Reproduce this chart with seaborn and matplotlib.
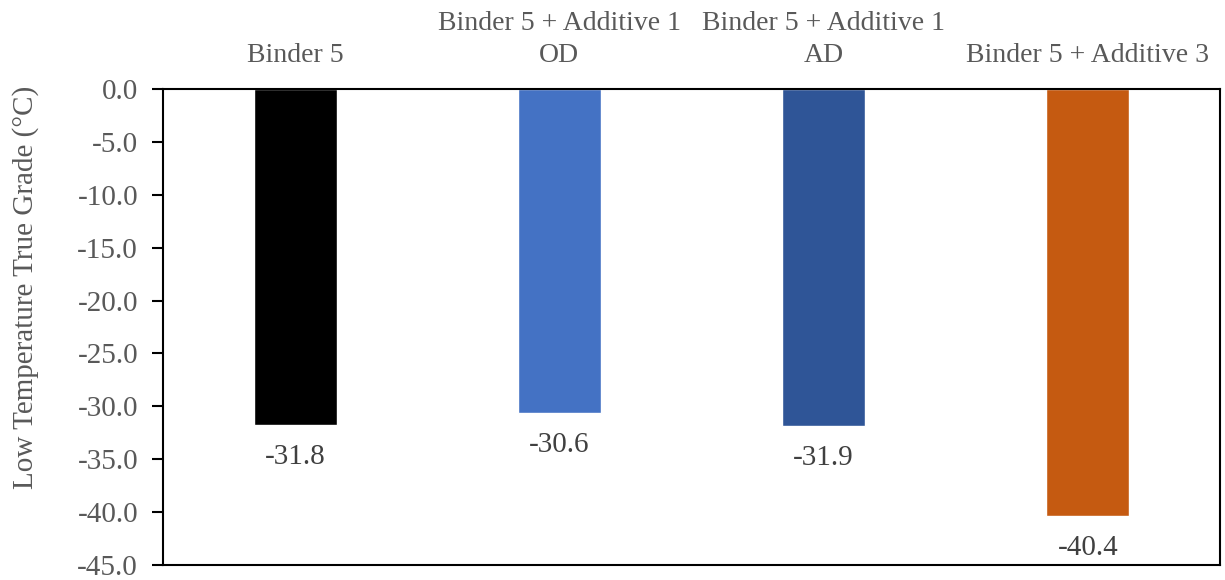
import matplotlib
matplotlib.use("Agg")
import matplotlib.pyplot as plt
import seaborn as sns
import pandas as pd

categories = ["Binder 5", "Binder 5 + Additive 1\nOD", "Binder 5 + Additive 1\nAD", "Binder 5 + Additive 3"]
values = [-31.8, -30.6, -31.9, -40.4]
colors = ["#000000", "#4472C4", "#2F5597", "#C55A11"]
yticks = [0, -5, -10, -15, -20, -25, -30, -35, -40, -45]

sns.set_theme(style="white")
plt.rcParams["font.family"] = ["Liberation Serif", "DejaVu Serif"]

df = pd.DataFrame({"binder": categories, "grade": values})

fig = plt.figure(figsize=(12.25, 5.8), dpi=100)
ax = fig.add_axes([163 / 1225, 1 - 565 / 580, (1220 - 163) / 1225, (565 - 89) / 580])

sns.barplot(data=df, x="binder", y="grade", hue="binder", palette=colors,
            width=0.314, dodge=False, legend=False, saturation=1, ax=ax)

ax.set_ylim(-45, 0)
ax.set_yticks(yticks)
ax.set_yticklabels([f"{t:.1f}" for t in yticks])
ax.set_xlim(-0.5, len(categories) - 0.5)

ax.xaxis.tick_top()
ax.set_xticks(range(len(categories)))
ax.set_xticklabels(categories)
ax.tick_params(axis="x", length=0, pad=15, labelsize=20, labelcolor="#595959")
ax.tick_params(axis="y", length=8, width=1.5, direction="out", left=True,
               labelsize=21, labelcolor="#595959", pad=10, color="black")
ax.set_xlabel("")
ax.set_ylabel("Low Temperature True Grade (°C)", fontsize=21, color="#595959")
ax.yaxis.set_label_coords(39 / 1225, (580 - 287) / 580, transform=fig.transFigure)

for spine in ax.spines.values():
    spine.set_visible(True)
    spine.set_color("black")
    spine.set_linewidth(1.5)

for i, v in enumerate(values):
    ax.annotate(f"{v:.1f}", xy=(i, v), xytext=(0, -23), textcoords="offset points",
                ha="center", va="center", fontsize=21, color="#404040")

# wider spacing between the two lines of the top category labels
fig.canvas.draw()
for tick in ax.xaxis.get_major_ticks():
    tick.label1.set_linespacing(1.4)
    tick.label2.set_linespacing(1.4)

fig.savefig("out.png", dpi=100)
